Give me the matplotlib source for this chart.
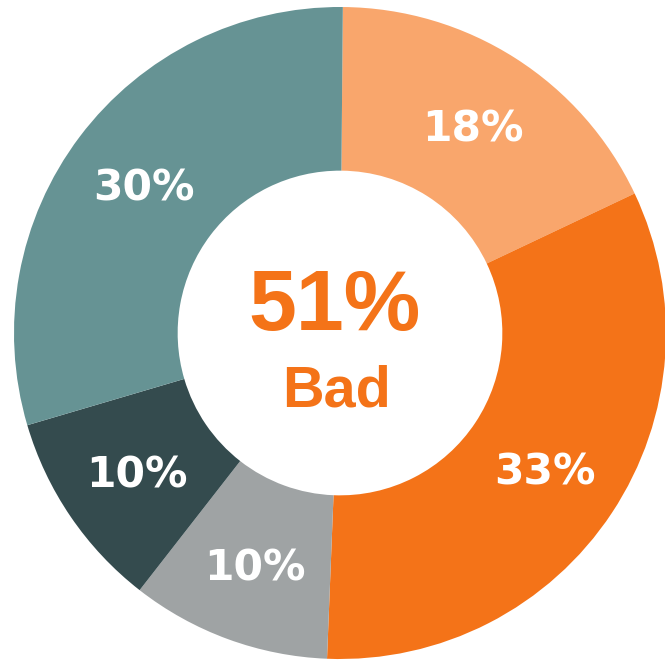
import matplotlib.pyplot as plt
import numpy as np

labels = ["18%", "33%", "10%", "10%", "30%"]
values = [18, 33, 10, 10, 30]
colors = ["#F9A66C", "#F47318", "#9FA3A4", "#344B4E", "#669394"]
center_value = "51%"
center_label = "Bad"

fig = plt.figure(figsize=(6.65, 6.61), dpi=100)
ax = fig.add_axes([0, 0, 1, 1])

wedges, _ = ax.pie(values, colors=colors, startangle=89.5, counterclock=False,
                   radius=1, wedgeprops=dict(width=0.502, linewidth=0))

# percent labels in the middle of the ring
for w, lab in zip(wedges, labels):
    ang = np.deg2rad((w.theta1 + w.theta2) / 2)
    r = 0.755
    ax.text(r * np.cos(ang), r * np.sin(ang) - 0.012, lab, ha="center", va="center",
            color="white", fontsize=30.5, fontweight="bold", family="DejaVu Sans")

ax.text(-0.018, 0.078, center_value, ha="center", va="center", color="#F47318",
        fontsize=62, fontweight="bold", family="Liberation Sans")
ax.text(-0.012, -0.18, center_label, ha="center", va="center", color="#F47318",
        fontsize=41.5, fontweight="bold", family="Liberation Sans")

ax.set_xlim(-340 / 326, (665 - 340) / 326)
ax.set_ylim(-(661 - 333) / 326, 333 / 326)
ax.set_aspect("auto")
ax.axis("off")

plt.savefig("out.png", dpi=100)
